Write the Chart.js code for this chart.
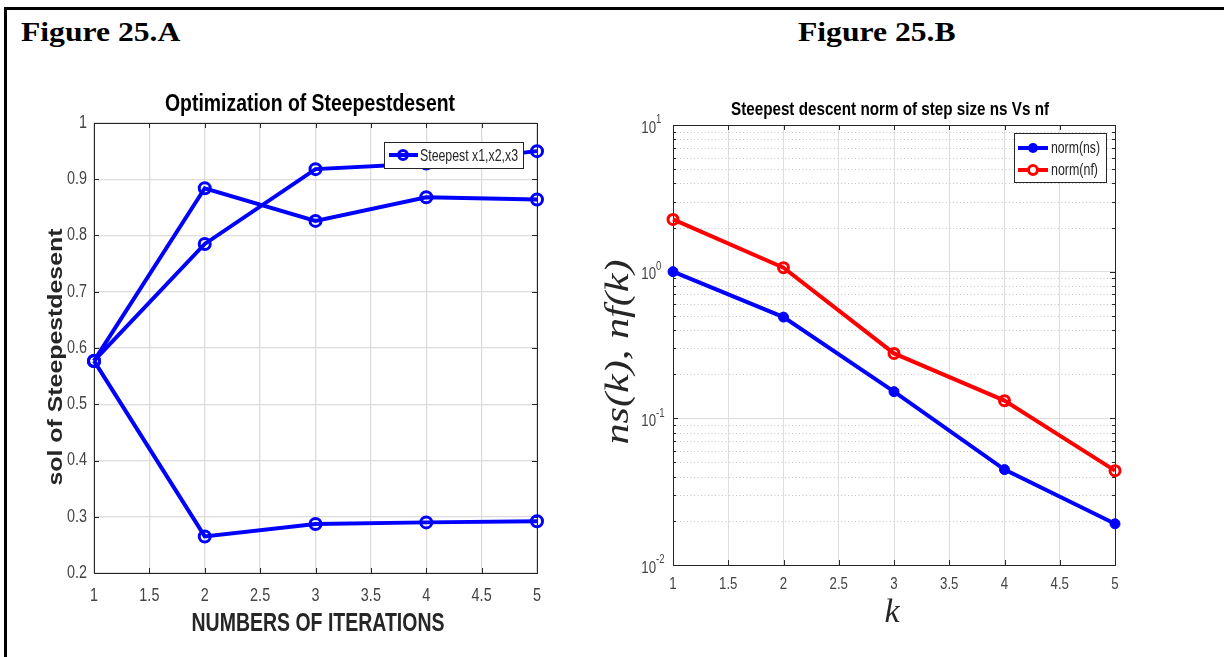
<!DOCTYPE html>
<html>
<head>
<meta charset="utf-8">
<script src="https://cdn.jsdelivr.net/npm/chart.js@4"></script>
<style>
  body { margin: 0; background: #fff; width: 1224px; height: 657px; overflow: hidden; position: relative; }
  .frame { position: absolute; left: 4px; top: 7px; width: 1240px; height: 670px; border-left: 3px solid #000; border-top: 3px solid #000; }
  .fig-label { position: absolute; top: 18px; font: bold 28px 'Liberation Serif', 'Times New Roman', serif; line-height: 28px; color: #000; white-space: nowrap; transform: scaleX(1.13); transform-origin: left center; }
  canvas { position: absolute; top: 0; }
</style>
</head>
<body>
<div class="frame"></div>
<div class="fig-label" style="left:21px">Figure 25.A</div>
<div class="fig-label" style="left:798px">Figure 25.B</div>
<canvas id="solChart" width="600" height="657" style="left:0"></canvas>
<canvas id="normChart" width="624" height="657" style="left:600px"></canvas>

<script>
// iterations and the three solution components
const ITERATIONS = [1, 2, 3, 4, 5];
const SOL_X1 = [0.577, 0.785, 0.918, 0.928, 0.950];
const SOL_X2 = [0.577, 0.884, 0.826, 0.868, 0.864];
const SOL_X3 = [0.577, 0.265, 0.287, 0.290, 0.292];

// step size norms per k (log scale)
const K_STEPS = [1, 2, 3, 4, 5];
const NORM_NS = [1.0, 0.49, 0.152, 0.0447, 0.0191];
const NORM_NF = [2.27, 1.065, 0.277, 0.132, 0.044];

const DECADES = [0.01, 0.1, 1, 10];
const DECADE_EXP = ['-2', '-1', '0', '1'];

const SANS = "'Liberation Sans', Arial, sans-serif";
const SERIF = "'Liberation Serif', 'Times New Roman', serif";
const AXIS_DARK = '#262626';
const TICK_GRAY = '#444';

Chart.defaults.animation = false;

const toPoints = (xs, ys) => xs.map((x, i) => ({ x, y: ys[i] }));

// text squeezed (or stretched) horizontally to a given width
function putText(ctx, text, x, y, font, opts = {}) {
    ctx.save();
    ctx.font = font;
    ctx.fillStyle = opts.color || '#000';
    ctx.textBaseline = opts.baseline || 'middle';
    ctx.textAlign = opts.align || 'center';
    ctx.translate(x, y);
    if (opts.rotate) ctx.rotate(opts.rotate);
    const w = ctx.measureText(text).width;
    const sx = opts.width ? opts.width / w : (opts.sx || 1);
    ctx.scale(sx, 1);
    ctx.fillText(text, 0, 0);
    ctx.restore();
}

function seg(ctx, x1, y1, x2, y2) {
    ctx.beginPath();
    ctx.moveTo(x1, y1);
    ctx.lineTo(x2, y2);
    ctx.stroke();
}

function drawBox(ctx, a) {
    ctx.save();
    ctx.strokeStyle = AXIS_DARK;
    ctx.lineWidth = 1;
    ctx.strokeRect(Math.round(a.left) + 0.5, Math.round(a.top) + 0.5,
        Math.round(a.right - a.left), Math.round(a.bottom - a.top));
    ctx.restore();
}

function xTicksInward(ctx, a, scale, len) {
    ctx.save();
    ctx.strokeStyle = AXIS_DARK;
    ctx.lineWidth = 1;
    scale.ticks.forEach(t => {
        const px = Math.round(scale.getPixelForValue(t.value)) + 0.5;
        seg(ctx, px, a.bottom, px, a.bottom - len);
        seg(ctx, px, a.top, px, a.top + len);
    });
    ctx.restore();
}

function yTickInward(ctx, a, py, len) {
    ctx.save();
    ctx.strokeStyle = AXIS_DARK;
    ctx.lineWidth = 1;
    py = Math.round(py) + 0.5;
    seg(ctx, a.left, py, a.left + len, py);
    seg(ctx, a.right, py, a.right - len, py);
    ctx.restore();
}

const fmtTick = v => String(+v.toFixed(1));

// axes box, ticks, labels, titles and legend of the solution chart
const solDecor = {
    id: 'solDecor',
    beforeDatasetsDraw(chart) {
        const { ctx, chartArea: a, scales: { x, y } } = chart;
        drawBox(ctx, a);
        xTicksInward(ctx, a, x, 5);
        y.ticks.forEach(t => yTickInward(ctx, a, y.getPixelForValue(t.value), 5));
    },
    afterDatasetsDraw(chart) {
        const { ctx, chartArea: a, scales: { x, y } } = chart;
        const tickFont = '18px ' + SANS;
        x.ticks.forEach(t => {
            putText(ctx, fmtTick(t.value), x.getPixelForValue(t.value), a.bottom + 23, tickFont, { sx: 0.8, color: TICK_GRAY });
        });
        y.ticks.forEach(t => {
            putText(ctx, fmtTick(t.value), a.left - 7, y.getPixelForValue(t.value), tickFont, { sx: 0.8, color: TICK_GRAY, align: 'right' });
        });

        putText(ctx, 'Optimization of Steepestdesent', 310, 105, 'bold 23px ' + SANS, { width: 290, color: '#000' });
        putText(ctx, 'NUMBERS OF ITERATIONS', 318, 624, 'bold 25px ' + SANS, { width: 253, color: AXIS_DARK });
        putText(ctx, 'sol of Steepestdesent', 56, 357, 'bold 20px ' + SANS, { width: 257, color: AXIS_DARK, rotate: -Math.PI / 2 });

        // legend box
        ctx.save();
        ctx.fillStyle = '#fff';
        ctx.fillRect(384, 142, 139, 26);
        ctx.strokeStyle = AXIS_DARK;
        ctx.lineWidth = 1;
        ctx.strokeRect(384.5, 142.5, 139, 26);
        ctx.strokeStyle = '#0000ff';
        ctx.lineWidth = 4;
        seg(ctx, 389, 155, 418, 155);
        ctx.lineWidth = 3;
        ctx.beginPath();
        ctx.arc(403, 155, 4.5, 0, Math.PI * 2);
        ctx.stroke();
        ctx.restore();
        putText(ctx, 'Steepest x1,x2,x3', 420, 156, '17px ' + SANS, { width: 98, color: AXIS_DARK, align: 'left' });
    }
};

// axes box, minor log grid, labels, titles and legend of the norm chart
const normDecor = {
    id: 'normDecor',
    beforeDatasetsDraw(chart) {
        const { ctx, chartArea: a, scales: { x, y } } = chart;
        ctx.save();
        ctx.strokeStyle = '#c4c4c4';
        ctx.lineWidth = 1;
        ctx.setLineDash([1, 2.5]);
        DECADES.slice(0, -1).forEach(d => {
            for (let m = 2; m <= 9; m++) {
                const py = Math.round(y.getPixelForValue(d * m)) + 0.5;
                seg(ctx, a.left, py, a.right, py);
            }
        });
        ctx.restore();
        drawBox(ctx, a);
        xTicksInward(ctx, a, x, 5);
        DECADES.forEach(d => {
            yTickInward(ctx, a, y.getPixelForValue(d), 5);
            if (d < 10) {
                for (let m = 2; m <= 9; m++) yTickInward(ctx, a, y.getPixelForValue(d * m), 3);
            }
        });
    },
    afterDatasetsDraw(chart) {
        const { ctx, chartArea: a, scales: { x, y } } = chart;
        x.ticks.forEach(t => {
            putText(ctx, fmtTick(t.value), x.getPixelForValue(t.value), a.bottom + 19, '17px ' + SANS, { sx: 0.78, color: TICK_GRAY });
        });
        DECADES.forEach((d, i) => {
            const py = y.getPixelForValue(d);
            putText(ctx, '10', a.left - 17, py + 3, '17px ' + SANS, { sx: 0.78, color: TICK_GRAY, align: 'right' });
            putText(ctx, DECADE_EXP[i], a.left - 17, py - 5, '12px ' + SANS, { sx: 0.8, color: TICK_GRAY, align: 'left' });
        });

        putText(ctx, 'Steepest descent norm of step size ns Vs nf', 290, 110, 'bold 19px ' + SANS, { width: 318, color: '#000' });
        putText(ctx, 'ns(k), nf(k)', 19, 352, 'italic 34px ' + SERIF, { width: 185, color: AXIS_DARK, rotate: -Math.PI / 2 });
        putText(ctx, 'k', 292, 613, 'italic 34px ' + SERIF, { color: AXIS_DARK });

        // legend box
        ctx.save();
        ctx.fillStyle = '#fff';
        ctx.fillRect(414, 133, 92, 49);
        ctx.strokeStyle = AXIS_DARK;
        ctx.lineWidth = 1;
        ctx.strokeRect(414.5, 133.5, 92, 49);
        ctx.lineWidth = 4;
        ctx.strokeStyle = '#0000ff';
        seg(ctx, 418, 148, 448, 148);
        ctx.fillStyle = '#0000ff';
        ctx.beginPath();
        ctx.arc(433, 148, 5, 0, Math.PI * 2);
        ctx.fill();
        ctx.strokeStyle = '#ff0000';
        seg(ctx, 418, 170, 448, 170);
        ctx.lineWidth = 3;
        ctx.fillStyle = '#fff';
        ctx.beginPath();
        ctx.arc(433, 170, 4.5, 0, Math.PI * 2);
        ctx.fill();
        ctx.stroke();
        ctx.restore();
        putText(ctx, 'norm(ns)', 451, 149, '16px ' + SANS, { width: 49, color: AXIS_DARK, align: 'left' });
        putText(ctx, 'norm(nf)', 451, 171, '16px ' + SANS, { width: 47, color: AXIS_DARK, align: 'left' });
    }
};

function solSeries(label, values) {
    return {
        label,
        data: toPoints(ITERATIONS, values),
        borderColor: '#0000ff',
        borderWidth: 4,
        pointStyle: 'circle',
        pointRadius: 5.5,
        pointBorderWidth: 3,
        pointBackgroundColor: 'rgba(0,0,0,0)',
        pointBorderColor: '#0000ff',
        tension: 0,
        clip: false
    };
}

new Chart(document.getElementById('solChart'), {
    type: 'line',
    data: {
        datasets: [
            solSeries('x1', SOL_X1),
            solSeries('x2', SOL_X2),
            solSeries('x3', SOL_X3)
        ]
    },
    options: {
        responsive: false,
        devicePixelRatio: 1,
        layout: { padding: { top: 123, right: 63, left: 0, bottom: 0 } },
        plugins: { legend: { display: false }, tooltip: { enabled: false } },
        scales: {
            x: {
                type: 'linear', min: 1, max: 5,
                ticks: { stepSize: 0.5, display: false },
                grid: { color: '#dcdcdc', lineWidth: 1.3, drawTicks: false },
                border: { display: false },
                afterFit: s => { s.height = 84; }
            },
            y: {
                type: 'linear', min: 0.2, max: 1,
                ticks: { stepSize: 0.1, display: false },
                grid: { color: '#dcdcdc', lineWidth: 1.3, drawTicks: false },
                border: { display: false },
                afterFit: s => { s.width = 94; }
            }
        }
    },
    plugins: [solDecor]
});

new Chart(document.getElementById('normChart'), {
    type: 'line',
    data: {
        datasets: [
            {
                label: 'norm(ns)',
                data: toPoints(K_STEPS, NORM_NS),
                borderColor: '#0000ff',
                borderWidth: 4,
                pointRadius: 5,
                pointBorderWidth: 1,
                pointBackgroundColor: '#0000ff',
                pointBorderColor: '#0000ff',
                tension: 0,
                clip: false
            },
            {
                label: 'norm(nf)',
                data: toPoints(K_STEPS, NORM_NF),
                borderColor: '#ff0000',
                borderWidth: 4,
                pointRadius: 5,
                pointBorderWidth: 3,
                pointBackgroundColor: 'rgba(0,0,0,0)',
                pointBorderColor: '#ff0000',
                tension: 0,
                clip: false
            }
        ]
    },
    options: {
        responsive: false,
        devicePixelRatio: 1,
        layout: { padding: { top: 125, right: 109, left: 0, bottom: 0 } },
        plugins: { legend: { display: false }, tooltip: { enabled: false } },
        scales: {
            x: {
                type: 'linear', min: 1, max: 5,
                ticks: { stepSize: 0.5, display: false },
                grid: { color: '#dedede', lineWidth: 1, drawTicks: false },
                border: { display: false },
                afterFit: s => { s.height = 92; }
            },
            y: {
                type: 'logarithmic', min: 0.01, max: 10,
                ticks: { display: false },
                afterBuildTicks: s => { s.ticks = DECADES.map(v => ({ value: v })); },
                grid: { color: '#dedede', lineWidth: 1, drawTicks: false },
                border: { display: false },
                afterFit: s => { s.width = 73; }
            }
        }
    },
    plugins: [normDecor]
});
</script>
</body>
</html>
